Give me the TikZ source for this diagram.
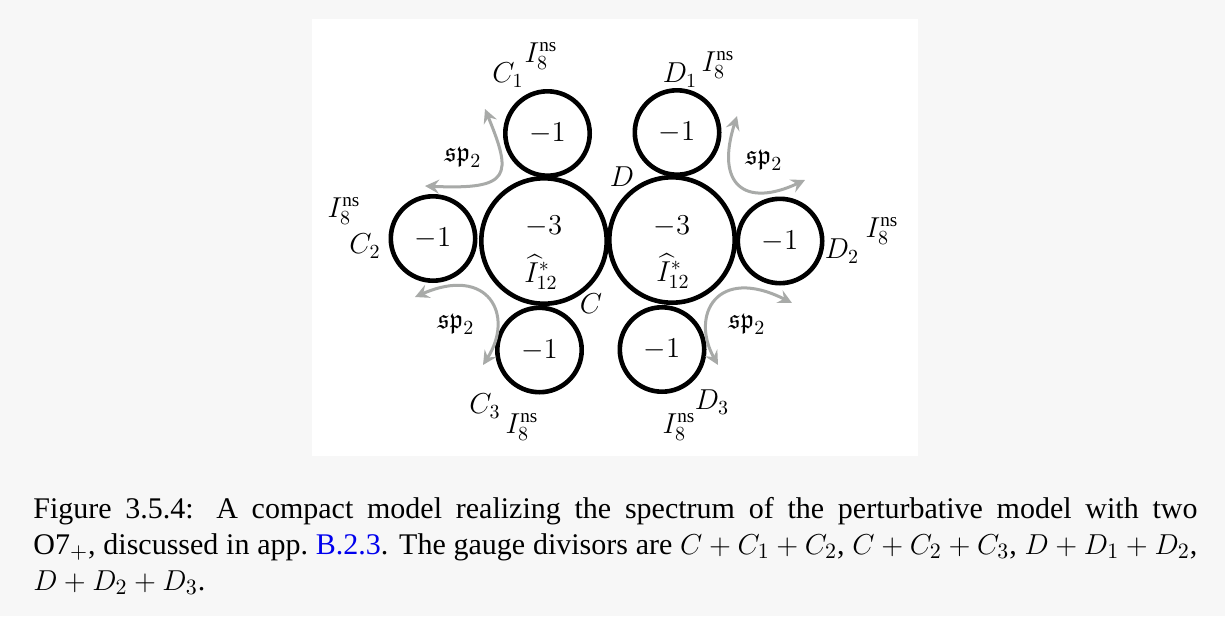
\documentclass[tikz,border=0pt]{standalone}
\usepackage{amsmath,amssymb}
\usepackage{fontspec}
\setmainfont{Liberation Serif}
\usepackage{tikz}
\usetikzlibrary{arrows.meta}
\usepackage{xcolor}
\definecolor{pagegray}{RGB}{247,247,247}
\definecolor{spgray}{RGB}{168,170,168}
\definecolor{linkblue}{RGB}{0,0,238}
\tikzset{
    bigdiv/.style={circle, draw=black, line width=2.3pt, minimum size=62.7pt, inner sep=0pt},
    smalldiv/.style={circle, draw=black, line width=2.3pt, minimum size=42.2pt, inner sep=0pt, font=\fontsize{13.7}{16}\selectfont},
    divlabel/.style={font=\fontsize{13.7}{16}\selectfont, inner sep=0pt},
    sparrow/.style={draw=spgray, line width=1.5pt, {Stealth[length=7pt,width=7pt,inset=2.5pt]}-{Stealth[length=7pt,width=7pt,inset=2.5pt]}},
    figcaption/.style={font=\fontsize{15}{18}\selectfont, text width=582pt, align=justify, inner sep=0pt}
}

\begin{document}
\begin{tikzpicture}[x=0.5pt, y=-0.5pt]
    \useasboundingbox (0,0) rectangle (1225,616);
    \fill[pagegray] (0,0) rectangle (1225,616);
    \fill[white] (312,19) rectangle (918,456);

    % curves C, D and the six -1 curves
    \node[bigdiv] (C) at (544,241) {};
    \node[bigdiv] (D) at (672,240) {};
    \node[smalldiv] (C1) at (547.5,133.5) {$-1$};
    \node[smalldiv] (C2) at (433,238.5) {$-1$};
    \node[smalldiv] (C3) at (539.5,350) {$-1$};
    \node[smalldiv] (D1) at (677,132.5) {$-1$};
    \node[smalldiv] (D2) at (780,241) {$-1$};
    \node[smalldiv] (D3) at (662,349.5) {$-1$};

    \node[divlabel] (Cself) at (544,226) {$-3$};
    \node[divlabel] (Dself) at (672,226) {$-3$};
    \node[divlabel] (Calg) at (541,272) {$\widehat{I}^*_{12}$};
    \node[divlabel] (Dalg) at (673,271) {$\widehat{I}^*_{12}$};

    \node[divlabel] (Cname) at (591,304) {$C$};
    \node[divlabel] (Dname) at (622,177) {$D$};
    \node[divlabel] (C1name) at (508,75) {$C_1$};
    \node[divlabel] (C1alg) at (541,56) {$I_8^{\mathrm{ns}}$};
    \node[divlabel] (C2name) at (365,246) {$C_2$};
    \node[divlabel] (C2alg) at (344,211) {$I_8^{\mathrm{ns}}$};
    \node[divlabel] (C3name) at (485,406) {$C_3$};
    \node[divlabel] (C3alg) at (522,427) {$I_8^{\mathrm{ns}}$};
    \node[divlabel] (D1name) at (680,75) {$D_1$};
    \node[divlabel] (D1alg) at (718,65) {$I_8^{\mathrm{ns}}$};
    \node[divlabel] (D2name) at (842,251) {$D_2$};
    \node[divlabel] (D2alg) at (882,231) {$I_8^{\mathrm{ns}}$};
    \node[divlabel] (D3name) at (712,402) {$D_3$};
    \node[divlabel] (D3alg) at (679,427) {$I_8^{\mathrm{ns}}$};

    % sp2 arrows
    \coordinate (ulA) at (485,109);
    \coordinate (ulB) at (425,186);
    \coordinate (urA) at (737,116);
    \coordinate (urB) at (805,180);
    \coordinate (llA) at (415,297);
    \coordinate (llB) at (483,365);
    \coordinate (lrA) at (792,303);
    \coordinate (lrB) at (718,365);
    \draw[sparrow] (ulA) .. controls (512,175) and (512,190) .. (ulB);
    \draw[sparrow] (urA) .. controls (715,185) and (745,208) .. (urB);
    \draw[sparrow] (llA) .. controls (488,265) and (515,315) .. (llB);
    \draw[sparrow] (lrA) .. controls (717,265) and (690,315) .. (lrB);
    \node[divlabel] (ulsp) at (463,157) {$\mathfrak{sp}_2$};
    \node[divlabel] (ursp) at (764,160) {$\mathfrak{sp}_2$};
    \node[divlabel] (llsp) at (456,324) {$\mathfrak{sp}_2$};
    \node[divlabel] (lrsp) at (747,324) {$\mathfrak{sp}_2$};

    \node[figcaption, anchor=base west] (cap) at (33,518) {Figure 3.5.4: A compact model realizing the spectrum of the perturbative model with two\linebreak
    O7$_+$, discussed in app.~\textcolor{linkblue}{B.2.3}. The gauge divisors are $C+C_1+C_2$, $C+C_2+C_3$, $D+D_1+D_2$,\linebreak
    $D+D_2+D_3$.};
\end{tikzpicture}
\end{document}
